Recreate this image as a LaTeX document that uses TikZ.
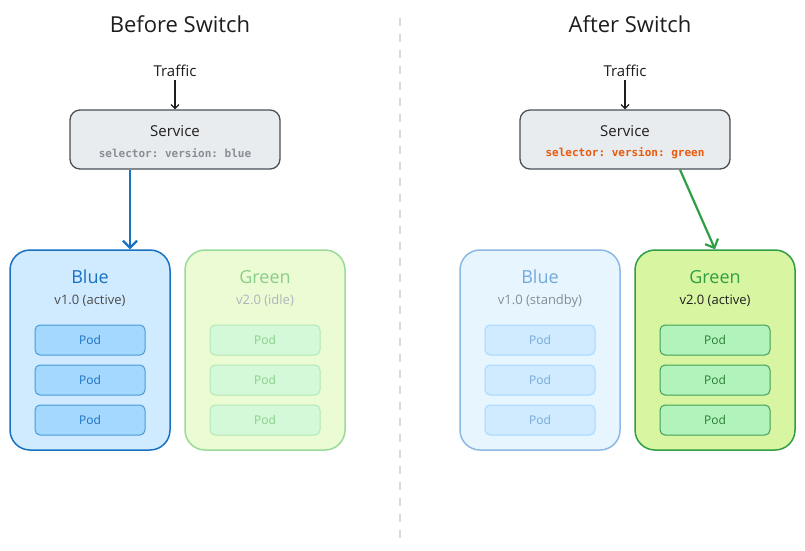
\documentclass[tikz,border=0pt]{standalone}
\usepackage{fontspec}
\setmainfont{Open Sans}
\setmonofont{DejaVu Sans Mono}
\usetikzlibrary{arrows.meta,calc}
\definecolor{ink}{HTML}{1E1E1E}
\definecolor{svcfill}{HTML}{E9ECEF}
\definecolor{svcline}{HTML}{495057}
\definecolor{selgray}{HTML}{868E96}
\definecolor{selorange}{HTML}{E8590C}
\definecolor{bluedark}{HTML}{1971C2}
\definecolor{bluefill}{HTML}{D0EBFF}
\definecolor{bluepod}{HTML}{A5D8FF}
\definecolor{bluepodline}{HTML}{4A9AD8}
\definecolor{bluepale}{HTML}{E7F5FF}
\definecolor{bluepaleline}{HTML}{8DB8E3}
\definecolor{bluepaletext}{HTML}{74A9DC}
\definecolor{greendark}{HTML}{2F9E44}
\definecolor{greenfill}{HTML}{D8F5A2}
\definecolor{greenpod}{HTML}{B2F2BB}
\definecolor{greenpodline}{HTML}{40A055}
\definecolor{greenpale}{HTML}{EBFBD3}
\definecolor{greenpaleline}{HTML}{9ADB9A}
\definecolor{greenpaletext}{HTML}{8ACE8A}
\definecolor{greenpalepod}{HTML}{D3F9D8}
\definecolor{greenpalepodline}{HTML}{B2E8B8}
\definecolor{versgray}{HTML}{ADB5BD}

\begin{document}
\begin{tikzpicture}[x=1pt,y=-1pt]
\tikzstyle{svc}=[draw=svcline,fill=svcfill,line width=1.3pt,rounded corners=10pt,minimum width=210pt,minimum height=59pt]
\tikzstyle{env}=[rounded corners=20pt,minimum width=160pt,minimum height=200pt,line width=1.5pt]
\tikzstyle{pod}=[rounded corners=5pt,minimum width=110pt,minimum height=30pt,line width=1pt,font=\fontsize{12}{14}\selectfont]
\tikzstyle{title}=[ink,font=\fontsize{22}{26}\selectfont]
\tikzstyle{label}=[ink,font=\fontsize{15}{18}\selectfont]
\tikzstyle{envname}=[font=\fontsize{18}{21}\selectfont]
\tikzstyle{version}=[font=\fontsize{13}{15}\selectfont]
\tikzstyle{selector}=[font=\ttfamily\bfseries\fontsize{11}{13}\selectfont]
\tikzstyle{edge}=[draw,-{Straight Barb[length=4pt,width=8pt]},line width=1.2pt,ink]
\tikzstyle{switch}=[draw,-{Straight Barb[length=7pt,width=14pt]},line width=2.2pt]
    \useasboundingbox[fill=white] (0,0) rectangle (805,550);
    \coordinate (divtop) at (400,18);
    \coordinate (divbot) at (400,540);
    \draw[black!15,line width=1.2pt,dash pattern=on 8pt off 8pt] (divtop) -- (divbot);

    \node[title] (titleL) at (180,24) {Before Switch};
    \node[label] (trafficL) at (175,71) {Traffic};
    \node[svc] (svcL) at (175,139.5) {};
    \node[label] (svcnameL) at (175,131) {Service};
    \node[selector,selgray] (selL) at (175,153) {selector: version: blue};

    \node[env,draw=bluedark,fill=bluefill] (blueL) at (90,350) {};
    \node[envname,bluedark] (bluenameL) at (90,277) {Blue};
    \node[version,ink!80] (bluevL) at (90,301) {v1.0 (active)};
    \node[pod,draw=bluepodline,fill=bluepod,text=bluedark] (bpodL1) at (90,340) {Pod};
    \node[pod,draw=bluepodline,fill=bluepod,text=bluedark] (bpodL2) at (90,380) {Pod};
    \node[pod,draw=bluepodline,fill=bluepod,text=bluedark] (bpodL3) at (90,420) {Pod};

    \node[env,draw=greenpaleline,fill=greenpale] (greenL) at (265,350) {};
    \node[envname,greenpaletext] (greennameL) at (265,277) {Green};
    \node[version,versgray] (greenvL) at (265,301) {v2.0 (idle)};
    \node[pod,draw=greenpalepodline,fill=greenpalepod,text=greenpaletext] (gpodL1) at (265,340) {Pod};
    \node[pod,draw=greenpalepodline,fill=greenpalepod,text=greenpaletext] (gpodL2) at (265,380) {Pod};
    \node[pod,draw=greenpalepodline,fill=greenpalepod,text=greenpaletext] (gpodL3) at (265,420) {Pod};

    \path (trafficL) edge [edge] (svcL);
    \path ($(svcL.south)+(-45,0)$) edge [switch,bluedark] ($(blueL.north)+(40,0)$);

    \node[title] (titleR) at (630,24) {After Switch};
    \node[label] (trafficR) at (625,71) {Traffic};
    \node[svc] (svcR) at (625,139.5) {};
    \node[label] (svcnameR) at (625,131) {Service};
    \node[selector,selorange] (selR) at (625,153) {selector: version: green};

    \node[env,draw=bluepaleline,fill=bluepale] (blueR) at (540,350) {};
    \node[envname,bluepaletext] (bluenameR) at (540,277) {Blue};
    \node[version,selgray] (bluevR) at (540,301) {v1.0 (standby)};
    \node[pod,draw=bluepod,fill=bluefill,text=bluepaletext] (bpodR1) at (540,340) {Pod};
    \node[pod,draw=bluepod,fill=bluefill,text=bluepaletext] (bpodR2) at (540,380) {Pod};
    \node[pod,draw=bluepod,fill=bluefill,text=bluepaletext] (bpodR3) at (540,420) {Pod};

    \node[env,draw=greendark,fill=greenfill] (greenR) at (715,350) {};
    \node[envname,greendark] (greennameR) at (715,277) {Green};
    \node[version,ink] (greenvR) at (715,301) {v2.0 (active)};
    \node[pod,draw=greenpodline,fill=greenpod,text=greendark!80!black] (gpodR1) at (715,340) {Pod};
    \node[pod,draw=greenpodline,fill=greenpod,text=greendark!80!black] (gpodR2) at (715,380) {Pod};
    \node[pod,draw=greenpodline,fill=greenpod,text=greendark!80!black] (gpodR3) at (715,420) {Pod};

    \path (trafficR) edge [edge] (svcR);
    \path ($(svcR.south)+(55,0)$) edge [switch,greendark] (greenR.north);
\end{tikzpicture}
\end{document}
